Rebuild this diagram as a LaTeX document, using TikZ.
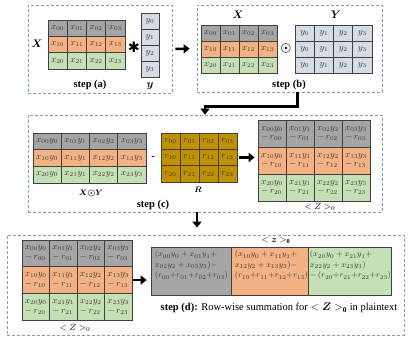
\documentclass[tikz,border=0pt]{standalone}
\usepackage{amsmath,amssymb}
\usepackage{fontspec}
\setmainfont{Liberation Serif}
\newfontfamily\symfont{DejaVu Sans}
\usepackage{tikz}
\usetikzlibrary{arrows.meta, positioning, calc}

\definecolor{cgray}{HTML}{A5A5A5}
\definecolor{corange}{HTML}{F4B183}
\definecolor{cgreen}{HTML}{C5E0B4}
\definecolor{cblue}{HTML}{D6DCE5}
\definecolor{cgold}{HTML}{BF9000}
\definecolor{cdash}{HTML}{7F9CBF}
\definecolor{cline}{HTML}{404040}
\definecolor{ctext}{HTML}{3A3A3A}

\begin{document}
\begin{tikzpicture}[x=1pt, y=-1pt, >=latex, font=\fontsize{8.8}{9.8}\selectfont]
    % Styles
    \tikzstyle{panel} = [draw=cdash, line width=0.7pt, dash pattern=on 3pt off 2pt, inner sep=0pt]
    \tikzstyle{cell} = [rectangle, draw=cline, line width=0.6pt, inner sep=0pt, text=ctext]
    \tikzstyle{lbl} = [font=\fontsize{10.5}{12}\selectfont\bfseries]
    \tikzstyle{sublbl} = [font=\fontsize{8.5}{10}\selectfont\bfseries]
    \tikzstyle{sumtext} = [anchor=north west, align=left, text=ctext, inner sep=0pt, font=\fontsize{8}{10.5}\selectfont]
    \tikzstyle{bigarrow} = [draw, line width=2.4pt, -{Triangle[width=9pt,length=6pt]}]

    \useasboundingbox (0,0) rectangle (416,337);

    % Panels
    \node [panel, minimum width=144pt, minimum height=88pt] (pa) at (100,49) {};
    \node [panel, minimum width=185pt, minimum height=87pt] (pb) at (289.5,48.5) {};
    \node [panel, minimum width=354pt, minimum height=97pt] (pc) at (205,163.5) {};
    \node [panel, minimum width=397pt, minimum height=100pt] (pd) at (205.5,285) {};

    % step (a)
    \foreach \i/\c in {0/cgray,1/corange,2/cgreen}
      \foreach \j in {0,...,3}
        \node [cell, fill=\c, minimum width=19.25pt, minimum height=16.3pt] (ax\i\j) at ({48+19.25*(\j+0.5)},{20+16.3*(\i+0.5)}) {$x_{\i\j}$};
    \foreach \i in {0,...,3}
      \node [cell, fill=cblue, minimum width=18pt, minimum height=16pt] (ay\i) at (150,{13+16*(\i+0.5)}) {$y_{\i}$};
    \node [lbl] (alx) at (37,44) {$\boldsymbol{X}$};
    \node (astar) at (134,47) {\symfont\Large ✱};
    \node [lbl] (aly) at (150,86) {$\boldsymbol{y}$};
    \node [lbl] (asa) at (90,85) {step (a)};

    % step (b)
    \foreach \i/\c in {0/cgray,1/corange,2/cgreen}
      \foreach \j in {0,...,3}
        \node [cell, fill=\c, minimum width=19pt, minimum height=16pt] (bx\i\j) at ({201+19*(\j+0.5)},{25+16*(\i+0.5)}) {$x_{\i\j}$};
    \foreach \i in {0,...,2}
      \foreach \j in {0,...,3}
        \node [cell, fill=cblue, minimum width=19.25pt, minimum height=16pt] (by\i\j) at ({295+19.25*(\j+0.5)},{25+16*(\i+0.5)}) {$y_{\j}$};
    \node (bodot) at (286,49) {\large$\boldsymbol{\odot}$};
    \node [lbl] (blx) at (238,15) {$\boldsymbol{X}$};
    \node [lbl] (bly) at (336,15) {$\boldsymbol{Y}$};
    \node [lbl] (bsb) at (289,85) {step (b)};

    % step (c)
    \foreach \i/\c in {0/cgray,1/corange,2/cgreen}
      \foreach \j in {0,...,3}
        \node [cell, fill=\c, minimum width=28.25pt, minimum height=16.7pt] (cxy\i\j) at ({33+28.25*(\j+0.5)},{133+16.7*(\i+0.5)}) {$x_{\i\j}y_{\j}$};
    \node [lbl] (cminus) at (153,158) {-};
    \foreach \i in {0,...,2}
      \foreach \j in {0,...,3}
        \node [cell, fill=cgold, minimum width=19pt, minimum height=16.3pt] (cr\i\j) at ({161+19*(\j+0.5)},{133+16.3*(\i+0.5)}) {$r_{\i\j}$};
    \foreach \i/\c in {0/cgray,1/corange,2/cgreen}
      \foreach \j in {0,...,3}
        \node [cell, fill=\c, align=left, minimum width=28pt, minimum height=27pt] (cz\i\j) at ({258+28*(\j+0.5)},{120+27*(\i+0.5)}) {$x_{\i\j}y_{\j}$\\$-\,r_{\i\j}$};
    \node [sublbl] (clxy) at (91,193) {$\boldsymbol{X{\odot}Y}$};
    \node [sublbl] (clr) at (198,190) {$\boldsymbol{R}$};
    \node [lbl] (csc) at (153,205) {step (c)};
    \node (clz) at (320,207) {$<Z>_0$};

    % step (d)
    \foreach \i/\c in {0/cgray,1/corange,2/cgreen}
      \foreach \j in {0,...,3}
        \node [cell, fill=\c, align=left, minimum width=27.5pt, minimum height=26.7pt] (dz\i\j) at ({22+27.5*(\j+0.5)},{240+26.7*(\i+0.5)}) {$x_{\i\j}y_{\j}$\\$-\,r_{\i\j}$};
    \node (dlz) at (75,328) {$<Z>_0$};
    \node [cell, fill=cgray, minimum width=80pt, minimum height=48pt] (ds0) at (191,271) {};
    \node [cell, fill=corange, minimum width=77pt, minimum height=48pt] (ds1) at (269.5,271) {};
    \node [cell, fill=cgreen, minimum width=83pt, minimum height=48pt] (ds2) at (349.5,271) {};
    \node [sumtext] (dt0) at ([shift={(4,4)}]ds0.north west)
      {$(x_{00}y_0+x_{01}y_1+$\\$x_{02}y_2+x_{03}y_3)-$\\$(r_{00}{+}r_{01}{+}r_{02}{+}r_{03})$};
    \node [sumtext] (dt1) at ([shift={(4,4)}]ds1.north west)
      {$(x_{10}y_0+x_{11}y_1+$\\$x_{12}y_2+x_{13}y_3)-$\\$(r_{10}{+}r_{11}{+}r_{12}{+}r_{13})$};
    \node [sumtext] (dt2) at ([shift={(2,4)}]ds2.north west)
      {$(x_{20}y_0+x_{21}y_1+$\\$x_{22}y_2+x_{23}y_3)$\\$-\,(r_{20}{+}r_{21}{+}r_{22}{+}r_{23})$};
    \node (dlz0) at (276,241) {$<\boldsymbol{z}>_{\mathbf{0}}$};
    \node [font=\fontsize{10.5}{12}\selectfont] (dsd) at (279,308) {\textbf{step (d):} Row-wise summation for $<\boldsymbol{Z}>_{\mathbf{0}}$ in plaintext};

    % Edges
    \draw [bigarrow, shorten <=3pt, shorten >=7pt] (pa.east) -- (pb.west);
    \draw [bigarrow] ([xshift=8pt]pb.south) -- ++(0,14) -| (pc.north);
    \draw [bigarrow, shorten <=2pt, shorten >=3pt] (cr13.east) -- (cr13.east -| cz10.west);
    \draw [bigarrow, shorten >=7pt] ([xshift=-8pt]pc.south) -- ([xshift=-8pt]pc.south |- pd.north);
    \draw [bigarrow, shorten <=1pt, shorten >=4pt] (dz13.east) -- (dz13.east -| ds0.west);
\end{tikzpicture}
\end{document}
